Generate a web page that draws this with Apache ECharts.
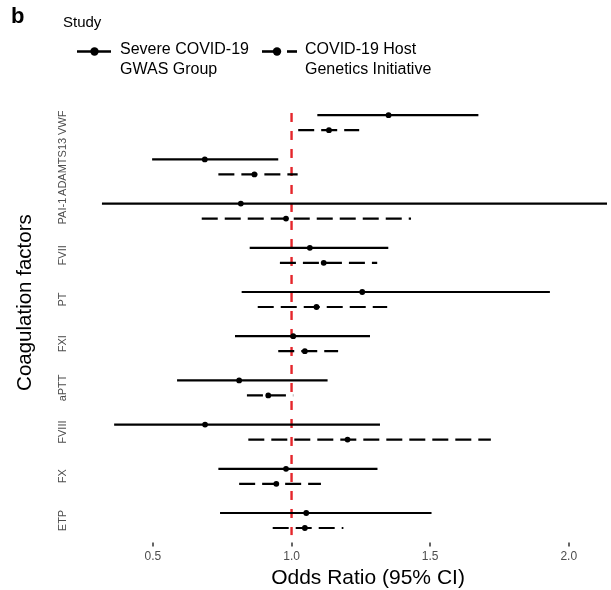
<!DOCTYPE html>
<html>
<head>
<meta charset="utf-8">
<script src="https://cdn.jsdelivr.net/npm/echarts@6/dist/echarts.min.js"></script>
<style>html,body{margin:0;padding:0;background:#fff}#chart{width:611px;height:590px}</style>
</head>
<body>
<div id="chart"></div>
<script>
const categories = ['VWF','ADAMTS13','PAI-1','FVII','PT','FXI','aPTT','FVIII','FX','ETP'];
const gwasEst  = [1.350,0.687,0.817,1.066,1.255,1.006,0.811,0.688,0.980,1.053];
const gwasLow  = [1.093,0.497,0.316,0.849,0.820,0.796,0.587,0.360,0.736,0.742];
const gwasHigh = [1.674,0.952,2.138,1.349,1.932,1.283,1.130,1.319,1.310,1.505];
const hgiEst   = [1.135,0.866,0.980,1.116,1.090,1.048,0.916,1.202,0.945,1.048];
const hgiLow   = [1.024,0.736,0.676,0.958,0.878,0.952,0.839,0.844,0.811,0.932];
const hgiHigh  = [1.244,1.022,1.431,1.309,1.345,1.168,1.006,1.719,1.106,1.187];
const xTicks = [0.5, 1.0, 1.5, 2.0];
const refValue = 1;
const seriesNames = ['Severe COVID-19\nGWAS Group', 'COVID-19 Host\nGenetics Initiative'];

const FONT = '"Liberation Sans", Arial, Helvetica, sans-serif';

function rows(lo, hi, est) {
  return categories.map((c, i) => [lo[i], hi[i], est[i], i]);
}
function makeRender(offsetFrac, dash) {
  return function (params, api) {
    const lo = api.coord([api.value(0), api.value(3)]);
    const hi = api.coord([api.value(1), api.value(3)]);
    const mid = api.coord([api.value(2), api.value(3)]);
    const band = api.size([0, 1])[1];
    const dy = band * offsetFrac;
    return {
      type: 'group',
      children: [
        { type: 'line', shape: { x1: lo[0], y1: lo[1] + dy, x2: hi[0], y2: hi[1] + dy },
          style: { stroke: '#000', lineWidth: 2.2, lineDash: dash, lineDashOffset: 0 } },
        { type: 'circle', shape: { cx: mid[0], cy: mid[1] + dy, r: 2.9 }, style: { fill: '#000' } }
      ]
    };
  };
}

const chart = echarts.init(document.getElementById('chart'), null, { renderer: 'canvas' });
chart.setOption({
  animation: false,
  backgroundColor: '#fff',
  textStyle: { fontFamily: FONT },
  grid: { left: 77, top: 100.6, height: 442, width: 582, outerBoundsMode: 'none', containLabel: false },
  xAxis: {
    type: 'value', min: 0.226, max: 2.3256,
    splitLine: { show: false }, axisLine: { show: false },
    axisTick: { show: true, customValues: xTicks, length: 4, lineStyle: { color: '#333', width: 1.5 } },
    axisLabel: { customValues: xTicks, formatter: v => v.toFixed(1), color: '#4d4d4d', fontSize: 12, margin: 8, fontFamily: FONT },
    name: 'Odds Ratio (95% CI)', nameLocation: 'middle', nameGap: 17,
    nameTextStyle: { fontSize: 21, color: '#000', fontFamily: FONT }
  },
  yAxis: {
    type: 'category', inverse: true, data: categories,
    axisLine: { show: false }, axisTick: { show: false },
    axisLabel: { rotate: 90, interval: 0, hideOverlap: false, fontSize: 11, color: '#4d4d4d', margin: 9, fontFamily: FONT },
    name: 'Coagulation factors', nameLocation: 'middle', nameGap: 41,
    nameTextStyle: { fontSize: 20.5, color: '#000', fontFamily: FONT, padding: [0, 0, 0, 38] }
  },
  series: [
    {
      type: 'custom', name: 'ref', data: [[refValue]], encode: { x: 0 },
      renderItem: function (params, api) {
        const top = api.coord([api.value(0), 0]);
        const bot = api.coord([api.value(0), categories.length - 1]);
        const band = api.size([0, 1])[1];
        return { type: 'line', shape: { x1: top[0], y1: top[1] - band * 0.22, x2: bot[0], y2: bot[1] + band * 0.33 },
          style: { stroke: '#e5262b', lineWidth: 2.4, lineDash: [9, 9] } };
      },
      z: 1
    },
    {
      type: 'custom', name: seriesNames[0], data: rows(gwasLow, gwasHigh, gwasEst),
      encode: { x: [0, 1, 2], y: 3 }, renderItem: makeRender(-0.17, null), z: 2
    },
    {
      type: 'custom', name: seriesNames[1], data: rows(hgiLow, hgiHigh, hgiEst),
      encode: { x: [0, 1, 2], y: 3 }, renderItem: makeRender(0.17, [16, 7]), z: 2
    }
  ],
  graphic: [
    { type: 'text', left: 11, top: 6, style: { text: 'b', font: 'bold 22px ' + FONT, fill: '#000' } },
    { type: 'text', left: 63, top: 15, style: { text: 'Study', font: '15px ' + FONT, fill: '#000' } },
    { type: 'line', shape: { x1: 77, y1: 51.5, x2: 111, y2: 51.5 }, style: { stroke: '#000', lineWidth: 2.6 } },
    { type: 'circle', shape: { cx: 94.5, cy: 51.5, r: 4.2 }, style: { fill: '#000' } },
    { type: 'text', left: 120, top: 40, style: { text: seriesNames[0], font: '16px ' + FONT, lineHeight: 20, fill: '#000' } },
    { type: 'line', shape: { x1: 262, y1: 51.5, x2: 278, y2: 51.5 }, style: { stroke: '#000', lineWidth: 2.6 } },
    { type: 'line', shape: { x1: 287, y1: 51.5, x2: 297, y2: 51.5 }, style: { stroke: '#000', lineWidth: 2.6 } },
    { type: 'circle', shape: { cx: 277, cy: 51.5, r: 4.2 }, style: { fill: '#000' } },
    { type: 'text', left: 305, top: 40, style: { text: seriesNames[1], font: '16px ' + FONT, lineHeight: 20, fill: '#000' } }
  ]
});
</script>
</body>
</html>
